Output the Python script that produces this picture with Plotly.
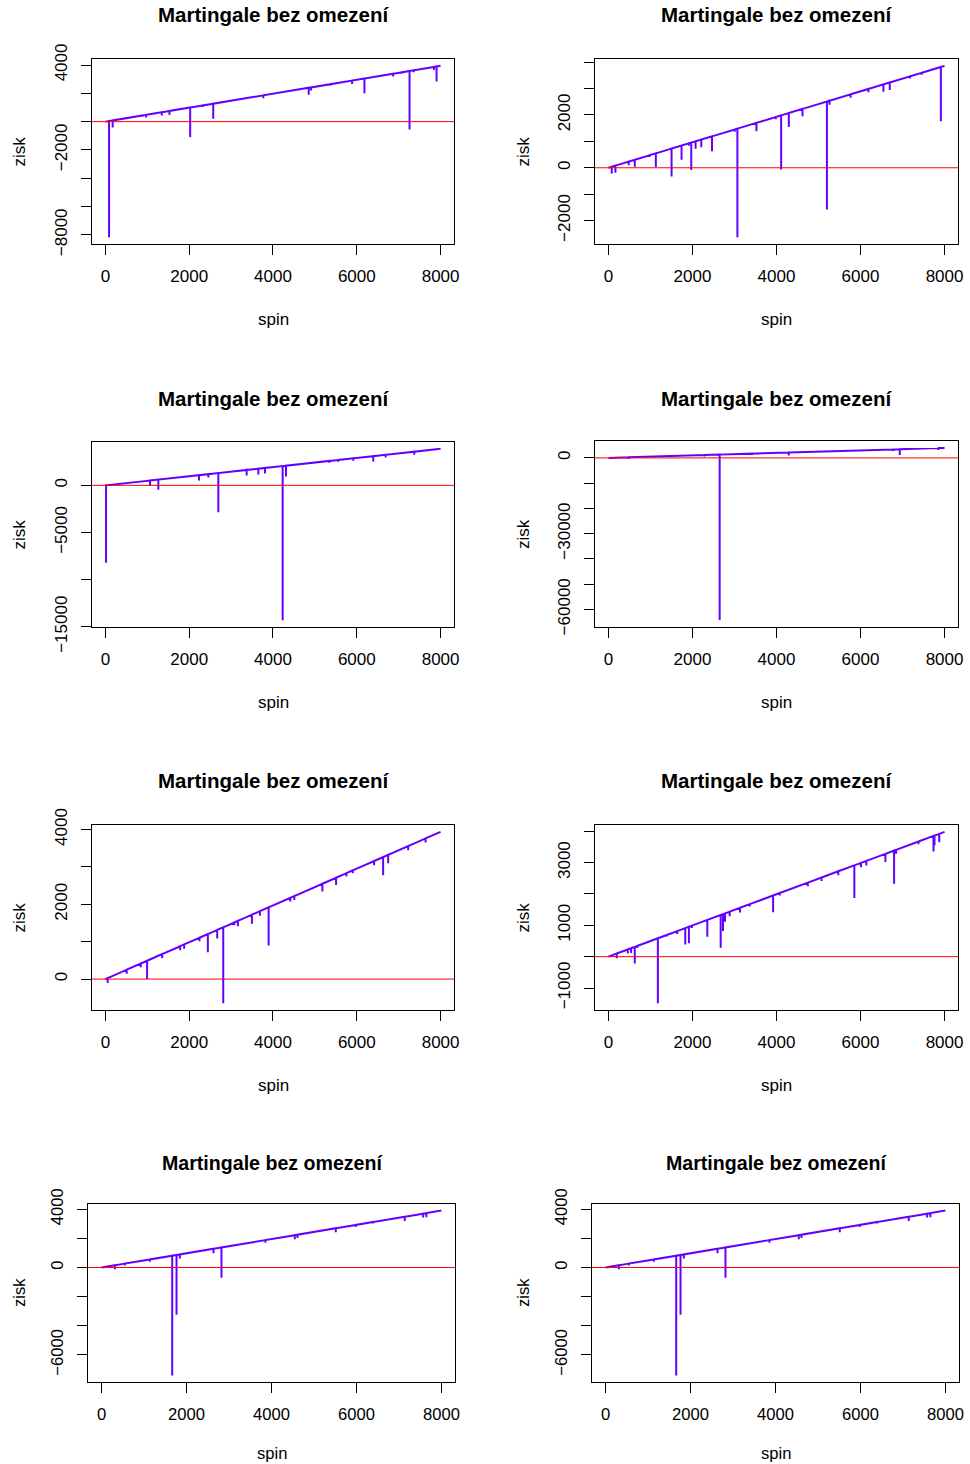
import plotly.graph_objects as go

# ---------------------------------------------------------------
# Martingale simulations: cumulative profit (zisk) per spin.
# Each series is described by the spins where a losing streak hits,
# the running profit just before it (top) and the lowest point (low).
# ---------------------------------------------------------------
TITLE = "Martingale bez omezení"
X_LABEL = "spin"
Y_LABEL = "zisk"
LINE_COLOR = "#6400FF"
FONT = "Liberation Sans, Arial, Helvetica, sans-serif"

spin_ticks = [0, 2000, 4000, 6000, 8000]
spin_last = 8000

# run 1
r1_spin = [88, 175, 884, 972, 1347, 1530, 2024, 2327, 2574, 3769, 4853, 4908,
           5370, 5888, 6183, 6868, 7060, 7259, 7362, 7841, 7904]
r1_top = [43, 86, 435, 479, 663, 754, 997, 1146, 1268, 1856, 2390, 2417,
          2645, 2900, 3045, 3383, 3477, 3575, 3626, 3862, 3893]
r1_low = [-8161, -422, 341, 291, 428, 473, -1079, 1029, 211, 1645, 1898, 2206,
          2528, 2665, 2010, 3195, 3383, -563, 3485, 3651, 2837]
r1_end = 3940
r1_yticks = [-8000, -6000, -4000, -2000, 0, 2000, 4000]
r1_ylabels = ["\u22128000", "", "", "\u22122000", "", "", "4000"]

# run 2
r2_spin = [80, 167, 485, 628, 978, 1129, 1503, 1741, 1916, 1972, 2075, 2211,
           2465, 3006, 3070, 3523, 3984, 4111, 4294, 4620, 5201, 5264, 5765,
           6187, 6545, 6696, 7181, 7459, 7912]
r2_top = [39, 81, 234, 303, 472, 545, 726, 841, 925, 952, 1002, 1067,
          1190, 1451, 1482, 1701, 1923, 1985, 2073, 2231, 2511, 2541, 2783,
          2987, 3160, 3233, 3467, 3601, 3820]
r2_low = [-214, -189, 100, 38, 409, 25, -327, 302, 837, -88, 717, 780,
          629, 1363, -2629, 1384, 1835, -63, 1547, 1950, -1585, 2390, 2654,
          2861, 2881, 2944, 3379, 3526, 1761]
r2_end = 3862
r2_yticks = [-2000, -1000, 0, 1000, 2000, 3000, 4000]
r2_ylabels = ["\u22122000", "", "0", "", "2000", "", ""]

# run 3
r3_spin = [16, 1066, 1264, 2235, 2457, 2696, 3372, 3650, 3809, 4231, 4310,
           5344, 5558, 5916, 6393, 6688, 7372]
r3_top = [8, 516, 612, 1082, 1189, 1305, 1632, 1767, 1844, 2048, 2086,
          2587, 2690, 2863, 3094, 3237, 3568]
r3_low = [-8202, 0, -458, 528, 845, -2851, 1056, 1162, 1267, -14300, 950,
          2411, 2514, 2617, 2534, 2955, 3251]
r3_end = 3873
r3_yticks = [-15000, -10000, -5000, 0]
r3_ylabels = ["\u221215000", "", "\u22125000", "0"]

# run 4
r4_spin = [477, 2290, 2648, 3419, 4294, 6783, 6934, 7857]
r4_top = [237, 1138, 1316, 1699, 2134, 3371, 3446, 3905]
r4_low = [-400, 600, -64260, 1170, 927, 2708, 1192, 3110]
r4_end = 3975
r4_yticks = [-60000, -50000, -40000, -30000, -20000, -10000, 0]
r4_ylabels = ["\u221260000", "", "", "\u221230000", "", "", "0"]

# run 5
r5_spin = [56, 510, 845, 996, 1355, 1785, 1880, 2247, 2446, 2669, 2813, 3076,
           3163, 3498, 3689, 3896, 4414, 4510, 5179, 5506, 5753, 5904, 6414,
           6629, 6749, 7227, 7641]
r5_top = [28, 251, 416, 490, 667, 879, 926, 1106, 1204, 1314, 1385, 1514,
          1557, 1722, 1816, 1918, 2173, 2220, 2550, 2711, 2832, 2907, 3158,
          3263, 3323, 3558, 3762]
r5_low = [-107, 143, 313, 0, 555, 770, 814, 1011, 716, 1083, -644, 1442,
          1414, 1477, 1691, 895, 2076, 2112, 2345, 2515, 2742, 2828, 3043,
          2774, 3096, 3445, 3651]
r5_end = 3938
r5_yticks = [0, 1000, 2000, 3000, 4000]
r5_ylabels = ["0", "", "2000", "", "4000"]

# run 6
r6_spin = [80, 199, 461, 541, 628, 684, 1177, 1392, 1638, 1829, 1916, 1988,
           2354, 2672, 2728, 2775, 2887, 3133, 3364, 3920, 4079, 4747, 5073,
           5471, 5853, 6012, 6139, 6592, 6799, 6847, 7380, 7737, 7761, 7873]
r6_top = [40, 99, 229, 269, 313, 340, 586, 693, 815, 910, 954, 990,
          1172, 1330, 1358, 1381, 1437, 1560, 1675, 1951, 2031, 2363, 2525,
          2723, 2914, 2993, 3056, 3281, 3385, 3408, 3674, 3852, 3863, 3919]
r6_low = [-2, -53, 100, 116, -222, 276, -1483, 640, 720, 392, 424, 915,
          635, 286, 815, 1112, 1292, 1408, 1600, 1419, 1955, 2245, 2414,
          2595, 1874, 2849, 2912, 3018, 2330, 3283, 3590, 3357, 3548, 3654]
r6_end = 3982
r6_yticks = [-1000, 0, 1000, 2000, 3000, 4000]
r6_ylabels = ["\u22121000", "", "1000", "", "3000", ""]

# run 7 (drawn twice on the last row)
r7_spin = [314, 549, 1137, 1663, 1765, 1843, 2635, 2823, 3859, 4549, 4612,
           5514, 5984, 6392, 7137, 7569, 7647]
r7_top = [153, 268, 556, 813, 862, 900, 1287, 1379, 1886, 2223, 2253,
          2694, 2924, 3123, 3487, 3698, 3736]
r7_low = [-114, 135, 400, -7407, -3246, 617, 983, -709, 1700, 1943, 2030,
          2423, 2780, 3030, 3200, 3429, 3460]
r7_end = 3909
r7_yticks = [-6000, -4000, -2000, 0, 2000, 4000]
r7_ylabels = ["\u22126000", "", "", "0", "", "4000"]

runs = [
    (r1_spin, r1_top, r1_low, r1_end, r1_yticks, r1_ylabels),
    (r2_spin, r2_top, r2_low, r2_end, r2_yticks, r2_ylabels),
    (r3_spin, r3_top, r3_low, r3_end, r3_yticks, r3_ylabels),
    (r4_spin, r4_top, r4_low, r4_end, r4_yticks, r4_ylabels),
    (r5_spin, r5_top, r5_low, r5_end, r5_yticks, r5_ylabels),
    (r6_spin, r6_top, r6_low, r6_end, r6_yticks, r6_ylabels),
    (r7_spin, r7_top, r7_low, r7_end, r7_yticks, r7_ylabels),
    (r7_spin, r7_top, r7_low, r7_end, r7_yticks, r7_ylabels),
]

# ---------------------------------------------------------------
# Page geometry (pixels): plot boxes for the 4 x 2 grid
# ---------------------------------------------------------------
W, H = 970, 1464
boxes = [
    (92, 454, 59, 244), (595, 958, 59, 244),
    (92, 454, 442, 627), (595, 958, 441, 627),
    (92, 454, 825, 1010), (595, 958, 825, 1010),
    (88, 455, 1204, 1382), (592, 959, 1204, 1382),
]
title_y = [15, 15, 398, 398, 781, 781, 1163, 1163]
xlab_y = [319, 319, 702, 702, 1085, 1085, 1453, 1453]
ylab_x = [19, 523, 19, 523, 19, 523, 19, 523]
title_size = [20.5] * 6 + [19.6] * 2
label_size = [17] * 6 + [16.6] * 2


def padded(lo, hi):
    span = hi - lo
    return [lo - 0.04 * span, hi + 0.04 * span]


fig = go.Figure()
layout = dict(
    width=W, height=H, autosize=False,
    margin=dict(l=0, r=0, t=0, b=0, pad=0, autoexpand=False),
    paper_bgcolor="white", plot_bgcolor="white",
    showlegend=False,
    font=dict(family=FONT, size=17, color="black"),
)
annotations = []
shapes = []

for i, ((spins, tops, lows, end, yt, yl), (x0, x1, y0, y1)) in enumerate(zip(runs, boxes)):
    sfx = "" if i == 0 else str(i + 1)
    xs = [1]
    ys = [0]
    for s, t, lo in zip(spins, tops, lows):
        xs += [s, s, s]
        ys += [t, lo, t]
    xs.append(spin_last)
    ys.append(end)

    fig.add_trace(go.Scatter(
        x=xs, y=ys, mode="lines",
        line=dict(color=LINE_COLOR, width=2),
        xaxis=f"x{sfx}", yaxis=f"y{sfx}", hoverinfo="skip",
    ))

    fs = label_size[i]
    layout[f"xaxis{sfx}"] = dict(
        domain=[x0 / W, x1 / W], anchor=f"y{sfx}", automargin=False,
        range=padded(1, spin_last),
        tickvals=spin_ticks, ticktext=[str(v) for v in spin_ticks],
        ticks="outside", ticklen=10, tickwidth=1, tickcolor="black",
        showline=True, mirror=True, linecolor="black", linewidth=1,
        showgrid=False, zeroline=False,
        tickfont=dict(size=fs), ticklabelstandoff=7,
    )
    layout[f"yaxis{sfx}"] = dict(
        domain=[1 - y1 / H, 1 - y0 / H], anchor=f"x{sfx}", automargin=False,
        range=padded(min(ys), max(ys)),
        tickvals=yt, ticktext=yl, tickangle=-90,
        ticks="outside", ticklen=10, tickwidth=1, tickcolor="black",
        showline=True, mirror=True, linecolor="black", linewidth=1,
        showgrid=False, zeroline=False,
        tickfont=dict(size=fs), ticklabelstandoff=7,
    )

    # horizontal reference line at zero profit
    shapes.append(dict(
        type="line", xref=f"x{sfx} domain", x0=0, x1=1,
        yref=f"y{sfx}", y0=0, y1=0,
        line=dict(color="red", width=1), layer="above",
    ))

    cx = (x0 + x1) / 2
    cy = (y0 + y1) / 2
    annotations.append(dict(
        text=f"<b>{TITLE}</b>", x=cx / W, y=1 - title_y[i] / H,
        xref="paper", yref="paper", xanchor="center", yanchor="middle",
        showarrow=False, font=dict(size=title_size[i]),
    ))
    annotations.append(dict(
        text=X_LABEL, x=cx / W, y=1 - xlab_y[i] / H,
        xref="paper", yref="paper", xanchor="center", yanchor="middle",
        showarrow=False, font=dict(size=fs),
    ))
    annotations.append(dict(
        text=Y_LABEL, x=ylab_x[i] / W, y=1 - cy / H, textangle=-90,
        xref="paper", yref="paper", xanchor="center", yanchor="middle",
        showarrow=False, font=dict(size=fs),
    ))

layout["annotations"] = annotations
layout["shapes"] = shapes
fig.update_layout(**layout)
fig.write_html("out.html")
